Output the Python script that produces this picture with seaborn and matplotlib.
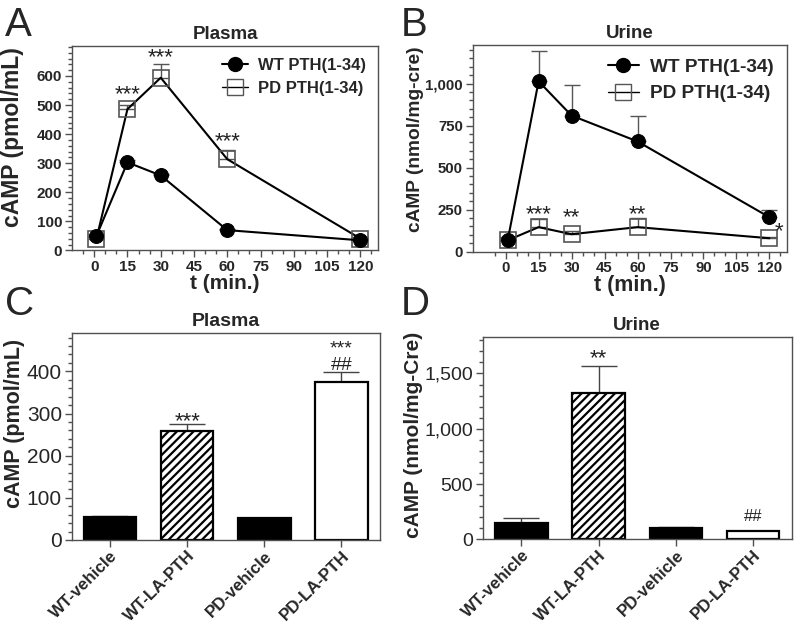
import numpy as np
import pandas as pd
import matplotlib
matplotlib.use("Agg")
import matplotlib.pyplot as plt
from matplotlib.ticker import MultipleLocator, FixedLocator, FuncFormatter
from matplotlib.lines import Line2D
import seaborn as sns

# ---- data ----
t_min = [1, 15, 30, 60, 120]
plasma_wt = [50, 303, 258, 70, 35]
plasma_wt_err = [6, 8, 6, 5, 4]
plasma_pd = [40, 486, 594, 314, 41]
plasma_pd_err = [8, 14, 48, 30, 6]
urine_wt = [72, 1014, 810, 656, 205]
urine_wt_err = [18, 180, 180, 150, 45]
urine_pd = [68, 146, 104, 146, 80]
urine_pd_err = [12, 50, 18, 54, 8]

groups = ["WT-vehicle", "WT-LA-PTH", "PD-vehicle", "PD-LA-PTH"]
plasma_bar = [54, 258, 51, 375]
plasma_bar_err = [3, 17, 2, 23]
urine_bar = [150, 1320, 105, 75]
urine_bar_err = [42, 246, 8, 3]

sns.set_theme(style="ticks")
plt.rcParams["font.family"] = ["Liberation Sans", "DejaVu Sans"]
plt.rcParams["hatch.linewidth"] = 1.6

SPINE = "#505050"

fig = plt.figure(figsize=(7.96, 6.27), dpi=100)
axA = fig.add_axes([0.0905, 0.6005, 0.3844, 0.3261])
axB = fig.add_axes([0.5938, 0.5986, 0.3949, 0.3296])
axC = fig.add_axes([0.0900, 0.1388, 0.3874, 0.3301])
axD = fig.add_axes([0.6064, 0.1399, 0.3882, 0.3226])


def style_axes(ax, tick_size, tick_bold):
    for s in ax.spines.values():
        s.set_color(SPINE)
        s.set_linewidth(1.0)
    ax.tick_params(which="both", direction="out", color=SPINE, width=1.0)
    ax.tick_params(which="major", length=5, labelsize=tick_size, pad=2)
    ax.tick_params(which="minor", length=3)
    for lab in ax.get_xticklabels() + ax.get_yticklabels():
        lab.set_fontweight("bold" if tick_bold else "normal")


def mark(ax, x, y, s, size=16):
    # place the glyph itself (not the text box) around (x, y)
    ax.annotate(s, (x, y), xytext=(0, -0.2 * size), textcoords="offset points",
                ha="center", va="center", fontsize=size, color="#222222")


def time_panel(ax, wt, wt_err, pd_, pd_err, ylabel, title, ymax, ytop, major,
               minor, xmin, sizes, ylab_xy):
    tick_size, ylab_size, title_size, xlab_size, leg_size = sizes
    # one-sided error bars (upper only)
    ax.errorbar(t_min, pd_, yerr=[np.zeros(5), pd_err], fmt="none",
                ecolor="#555555", elinewidth=1.0, capsize=6, zorder=2)
    ax.errorbar(t_min, wt, yerr=[np.zeros(5), wt_err], fmt="none",
                ecolor="#555555", elinewidth=1.0, capsize=6, zorder=2)
    sns.lineplot(x=t_min, y=pd_, ax=ax, color="black", lw=1.5, marker="s",
                 markersize=11, markerfacecolor="none", markeredgecolor="#555555",
                 markeredgewidth=1.2, zorder=3)
    sns.lineplot(x=t_min, y=wt, ax=ax, color="black", lw=1.5, marker="o",
                 markersize=10, markerfacecolor="black", markeredgecolor="black",
                 zorder=4)
    ax.set_xlim(xmin, 128)
    ax.set_ylim(0, ymax)
    ax.xaxis.set_major_locator(FixedLocator(list(range(0, 121, 15))))
    ax.xaxis.set_minor_locator(FixedLocator(list(range(-5 if xmin < -5 else 0, 126, 5))))
    ax.yaxis.set_major_locator(FixedLocator(list(range(0, ytop + 1, major))))
    ax.yaxis.set_minor_locator(MultipleLocator(minor))
    ax.yaxis.set_major_formatter(FuncFormatter(lambda v, p: f"{int(v):,}"))
    ax.set_xlabel("t (min.)", fontsize=xlab_size, fontweight="bold", labelpad=0)
    ax.set_ylabel(ylabel, fontsize=ylab_size, fontweight="bold")
    ax.yaxis.set_label_coords(*ylab_xy)
    ax.set_title(title, fontsize=title_size, fontweight="bold", pad=5)
    style_axes(ax, tick_size, True)
    handles = [
        Line2D([], [], color="black", lw=1.5, marker="o", markersize=10,
               markerfacecolor="black"),
        Line2D([], [], color="black", lw=1.0, marker="s", markersize=11,
               markerfacecolor="none", markeredgecolor="#555555"),
    ]
    ax.legend(handles, ["WT PTH(1-34)", "PD PTH(1-34)"], loc="upper right",
              frameon=False, prop={"weight": "bold", "size": leg_size},
              handlelength=1.6, handletextpad=0.6, borderaxespad=0.3,
              labelspacing=0.5)


time_panel(axA, plasma_wt, plasma_wt_err, plasma_pd, plasma_pd_err,
           "cAMP (pmol/mL)", "Plasma", 703, 600, 100, 20, -10,
           (11, 16.5, 13.5, 15, 12), (-0.157, 0.555))
time_panel(axB, urine_wt, urine_wt_err, urine_pd, urine_pd_err,
           "cAMP (nmol/mg-cre)", "Urine", 1230, 1000, 250, 50, -15,
           (10.8, 13.8, 13.5, 15.5, 13.7), (-0.155, 0.545))

mark(axA, 15, 551, "***")
mark(axA, 30, 677, "***")
mark(axA, 60, 391, "***")
mark(axB, 15, 244, "***")
mark(axB, 30, 230, "**")
mark(axB, 60, 244, "**")
mark(axB, 124.5, 144, "*")


def bar_panel(ax, vals, errs, ylabel, title, ymax, major, minor, tick_size,
              ylab_size, title_size, ylab_xy):
    df = pd.DataFrame({"group": groups, "value": vals})
    sns.barplot(data=df, x="group", y="value", ax=ax, width=0.68,
                color="black", edgecolor="black", linewidth=1.6, errorbar=None)
    faces = ["black", "white", "black", "white"]
    hatches = [None, "////", None, None]
    for patch, fc, h in zip(ax.patches, faces, hatches):
        patch.set_facecolor(fc)
        patch.set_edgecolor("black")
        if h:
            patch.set_hatch(h)
    ax.errorbar(range(len(groups)), vals, yerr=[np.zeros(4), errs], fmt="none",
                ecolor="#444444", elinewidth=1.0, capsize=13, zorder=0)
    ax.set_xlim(-0.5, 3.5)
    ax.set_ylim(0, ymax)
    ax.yaxis.set_major_locator(MultipleLocator(major))
    ax.yaxis.set_minor_locator(MultipleLocator(minor))
    ax.yaxis.set_major_formatter(FuncFormatter(lambda v, p: f"{int(v):,}"))
    ax.set_xlabel("")
    ax.set_ylabel(ylabel, fontsize=ylab_size, fontweight="bold")
    ax.yaxis.set_label_coords(*ylab_xy)
    ax.set_title(title, fontsize=title_size, fontweight="bold", pad=5)
    style_axes(ax, tick_size, False)
    ax.tick_params(axis="x", labelsize=12.2, pad=1)
    for lab in ax.get_xticklabels():
        lab.set_rotation(45)
        lab.set_ha("right")
        lab.set_rotation_mode("anchor")
        lab.set_fontweight("bold")


bar_panel(axC, plasma_bar, plasma_bar_err, "cAMP (pmol/mL)", "Plasma",
          491, 100, 20, 15, 15.5, 14, (-0.151, 0.563))
bar_panel(axD, urine_bar, urine_bar_err, "cAMP (nmol/mg-Cre)", "Urine",
          1830, 500, 100, 14, 15.0, 13.5, (-0.192, 0.515))

mark(axC, 1, 291, "***")
axC.annotate("***\n##", (3, 433), ha="center", va="center", fontsize=14,
             color="#222222", linespacing=1.0)
mark(axD, 1, 1672, "**")
mark(axD, 3, 235, "##", size=12)

# panel letters
for letter, x, y in [("A", 0.006, 0.99), ("B", 0.504, 0.99),
                     ("C", 0.006, 0.545), ("D", 0.504, 0.545)]:
    fig.text(x, y, letter, fontsize=29, ha="left", va="top")

fig.savefig("out.png", dpi=100)
